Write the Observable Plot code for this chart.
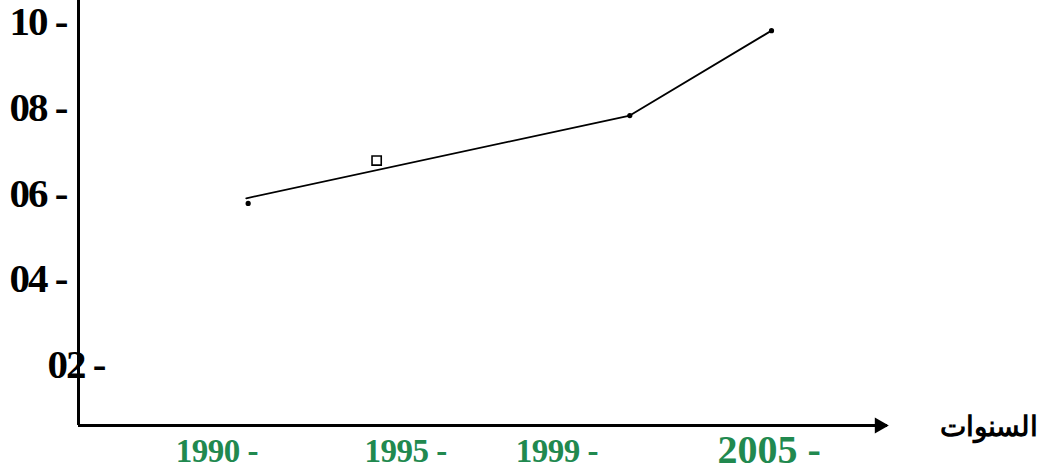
<!DOCTYPE html>
<html>
<head>
<meta charset="utf-8">
<script src="https://cdn.jsdelivr.net/npm/d3@7"></script>
<script src="https://cdn.jsdelivr.net/npm/@observablehq/plot@0.6"></script>
<style>
  html, body { margin: 0; padding: 0; background: #fff; }
  #chart svg { display: block; }
  #chart .ylab text { letter-spacing: -2px; }
  #chart .xlab text { letter-spacing: -0.5px; }
</style>
</head>
<body>
<div id="chart"></div>
<script>
// Values
const lineYears = [1989.85, 2000.0, 2003.75];
const lineValues = [5.97, 7.90, 9.88];
const dotYears = [1989.9, 2000.0, 2003.75];
const dotValues = [5.85, 7.90, 9.88];
const squareYears = [1993.3];
const squareValues = [6.85];

const yTicks = [10, 8, 6, 4, 2];
const yTickLabels = ["10 -", "08 -", "06 -", "04 -", "02 -"];
const xTicks = [1990, 1995, 1999, 2005];
const xTickLabels = ["1990 -", "1995 -", "1999 -", "2005 -"];
const xAxisTitle = "السنوات";

const xDomain = [1985.41, 2006.82];
const yDomain = [0.67, 10.583];

const lineData = lineYears.map((x, i) => ({x, y: lineValues[i]}));
const dotData = dotYears.map((x, i) => ({x, y: dotValues[i]}));
const squareData = squareYears.map((x, i) => ({x, y: squareValues[i]}));
const yLabelData = yTicks.map((v, i) => ({v, label: yTickLabels[i]}));
const xLabelData = xTicks.map((v, i) => ({v, label: xTickLabels[i]}));

const serif = "'Liberation Serif', 'Times New Roman', serif";
const green = "#21894f";

const chart = Plot.plot({
  width: 1039,
  height: 473,
  marginLeft: 78,
  marginRight: 152,
  marginTop: 0,
  marginBottom: 48,
  x: {domain: xDomain, axis: null},
  y: {domain: yDomain, axis: null},
  style: {background: "#fff", overflow: "visible"},
  marks: [
    // axes lines
    Plot.ruleX([xDomain[0]], {stroke: "#000", strokeWidth: 3}),
    Plot.ruleY([yDomain[0]], {stroke: "#000", strokeWidth: 3}),
    Plot.dot([xDomain[1]], {x: d => d, y: () => yDomain[0], symbol: "triangle", rotate: 90, r: 6, fill: "#000", stroke: "none", dx: -8}),
    // data line
    Plot.line(lineData, {x: "x", y: "y", stroke: "#000", strokeWidth: 1.8}),
    Plot.dot(dotData, {x: "x", y: "y", r: 2.6, fill: "#000", stroke: "none"}),
    Plot.dot(squareData, {x: "x", y: "y", symbol: "square", r: 5.2, fill: "#fff", stroke: "#000", strokeWidth: 1.6}),
    // y tick labels
    Plot.text(yLabelData.filter(d => d.v !== 2), {className: "ylab", x: () => xDomain[0], y: "v", text: "label", textAnchor: "end", dx: -12, dy: -3.6, fontSize: 41, fontWeight: "bold", fontFamily: serif, fill: "#000"}),
    Plot.text(yLabelData.filter(d => d.v === 2), {className: "ylab", x: () => xDomain[0], y: "v", text: "label", textAnchor: "end", dx: 26, dy: -3.6, fontSize: 41, fontWeight: "bold", fontFamily: serif, fill: "#000"}),
    // x tick labels
    Plot.text(xLabelData.filter(d => d.v !== 2005), {className: "xlab", x: "v", y: () => yDomain[0], text: "label", textAnchor: "end", dx: 6, dy: 26.4, fontSize: 33, fontWeight: "bold", fontFamily: serif, fill: green}),
    Plot.text(xLabelData.filter(d => d.v === 2005), {x: "v", y: () => yDomain[0], text: "label", textAnchor: "end", dx: 2, dy: 24.2, fontSize: 40, fontWeight: "bold", fontFamily: serif, fill: green}),
    // x axis title
    Plot.text([xAxisTitle], {x: () => xDomain[1], y: () => yDomain[0], text: d => d, textAnchor: "end", dx: 150, dy: 2, fontSize: 28, fontWeight: "bold", fontFamily: "'Liberation Sans', Arial, sans-serif", fill: "#000"})
  ]
});
document.getElementById("chart").appendChild(chart);
</script>
</body>
</html>
